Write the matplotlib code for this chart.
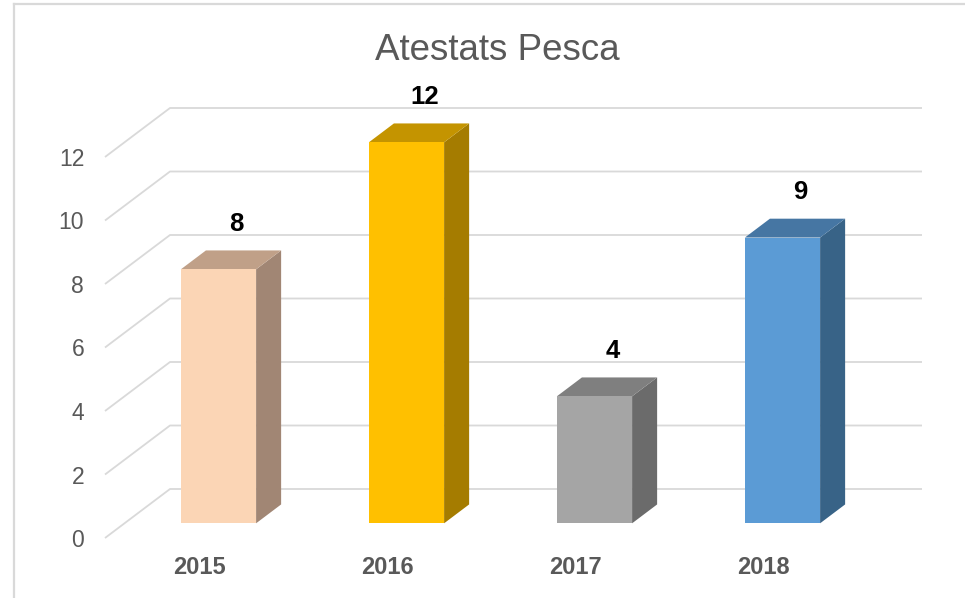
import matplotlib
matplotlib.use("Agg")
import matplotlib.pyplot as plt
from matplotlib.patches import Polygon
from matplotlib.lines import Line2D

# data
years = ["2015", "2016", "2017", "2018"]
values = [8, 12, 4, 9]
yticks = [0, 2, 4, 6, 8, 10, 12]
title = "Atestats Pesca"

# colours: front, top, side
front_cols = ["#FBD5B5", "#FFC000", "#A5A5A5", "#5B9BD5"]
top_cols = ["#C0A088", "#C49400", "#7F7F7F", "#4676A3"]
side_cols = ["#A18674", "#A57C00", "#6B6B6B", "#386387"]

plt.rcParams['font.family'] = ['Liberation Sans', 'DejaVu Sans']

W, H = 965, 598
fig = plt.figure(figsize=(W / 100, H / 100), dpi=100)

# 3d look: depth of the floor in slot / value units
DX = 65 / 188
DY = 49 / 31.75
D0, D1 = 0.30, 0.685   # bar front/back depth fraction
BW = 0.4               # bar width

ymax = 14.2
ax = fig.add_axes([105 / W, (H - 538) / H, (4 + DX) * 188 / W, ymax * 31.75 / H])
ax.set_xlim(0, 4 + DX)
ax.set_ylim(0, ymax)
for s in ax.spines.values():
    s.set_visible(False)

grid_c = "#D9D9D9"
n = len(years)
for v in yticks:
    ax.plot([0, DX, n + DX], [v, v + DY, v + DY], color=grid_c, lw=1.3,
            clip_on=False, zorder=1, solid_capstyle='butt')

for i, v in enumerate(values):
    x0 = i + 0.5 - BW / 2
    x1 = x0 + BW
    fx, fy = D0 * DX, D0 * DY
    bx, by = D1 * DX, D1 * DY
    side = [(x1 + fx, fy), (x1 + bx, by), (x1 + bx, v + by), (x1 + fx, v + fy)]
    top = [(x0 + fx, v + fy), (x1 + fx, v + fy), (x1 + bx, v + by), (x0 + bx, v + by)]
    front = [(x0 + fx, fy), (x1 + fx, fy), (x1 + fx, v + fy), (x0 + fx, v + fy)]
    ax.add_patch(Polygon(side, closed=True, fc=side_cols[i], ec='none', zorder=3, clip_on=False))
    ax.add_patch(Polygon(top, closed=True, fc=top_cols[i], ec='none', zorder=3, clip_on=False))
    ax.add_patch(Polygon(front, closed=True, fc=front_cols[i], ec='none', zorder=4, clip_on=False))
    ax.annotate(str(v), xy=(i + 0.5 + (D0 + D1) / 2 * DX + 0.03, v + by),
                xytext=(0, 14), textcoords='offset points',
                ha='center', va='baseline', fontsize=18.5, fontweight='bold',
                color='black', annotation_clip=False)

ax.set_yticks(yticks)
ax.set_yticklabels([str(t) for t in yticks])
ax.set_xticks([i + 0.5 for i in range(n)])
ax.set_xticklabels(years, fontweight='bold')
ax.tick_params(axis='y', length=0, pad=15, labelsize=16.5, labelcolor='#595959')
ax.tick_params(axis='x', length=0, pad=13, labelsize=17, labelcolor='#595959')

fig.text(497 / W, 1 - 60 / H, title, ha='center', va='baseline',
         fontsize=26.5, color='#595959')

# chart border (only left and top visible in the crop)
fig.add_artist(Line2D([14 / W, 14 / W], [0, 1 - 4 / H], transform=fig.transFigure,
                      color=grid_c, lw=1.6))
fig.add_artist(Line2D([14 / W, 1], [1 - 4 / H, 1 - 4 / H], transform=fig.transFigure,
                      color=grid_c, lw=1.6))

fig.savefig("out.png", dpi=100)
